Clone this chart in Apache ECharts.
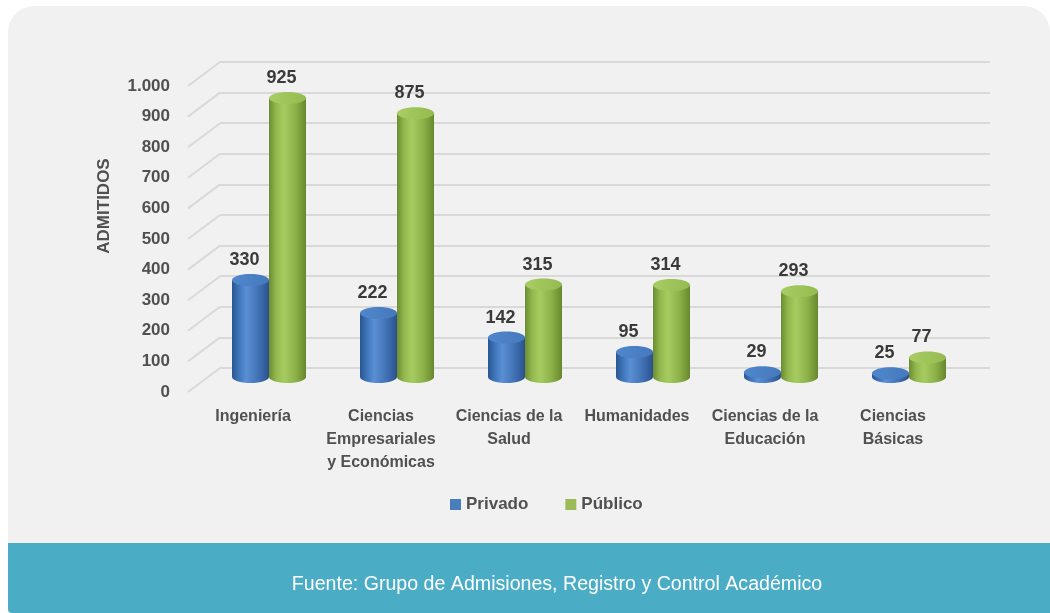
<!DOCTYPE html>
<html>
<head>
<meta charset="utf-8">
<script src="https://cdn.jsdelivr.net/npm/echarts@6/dist/echarts.min.js"></script>
<style>
html, body { margin: 0; padding: 0; background: #ffffff; }
#chart { width: 1050px; height: 613px; }
</style>
</head>
<body>
<div id="chart"></div>
<script>
// datos
var categorias = ['Ingeniería', 'Ciencias\nEmpresariales\ny Económicas', 'Ciencias de la\nSalud', 'Humanidades', 'Ciencias de la\nEducación', 'Ciencias\nBásicas'];
var privado = [330, 222, 142, 95, 29, 25];
var publico = [925, 875, 315, 314, 293, 77];
var yTicks = [0, 100, 200, 300, 400, 500, 600, 700, 800, 900, 1000];
var yMin = 0, yMax = 1000, yPaso = 100;

var fuente = "'Liberation Sans', Arial, sans-serif";
var chart = echarts.init(document.getElementById('chart'));

function grad(stops) {
    return new echarts.graphic.LinearGradient(0, 0, 1, 0, stops);
}

/**
 * cilindro 3D para cada barra
 */
function cilindro(lado, cuerpo, tapa) {
    return function (params, api) {
        var i = api.value(0);
        var v = api.value(1);
        var base = api.coord([i, 0]);
        var tope = api.coord([i, v]);
        var w = 37;
        var cx = base[0] + lado * w / 2;
        var yb = base[1] - 4;
        var yt = Math.min(tope[1], yb);
        var ry = 6;
        return {
            type: 'group',
            children: [
                { type: 'ellipse', shape: { cx: cx, cy: yb, rx: w / 2, ry: ry }, style: { fill: grad(cuerpo) } },
                { type: 'rect', shape: { x: cx - w / 2, y: yt, width: w, height: yb - yt }, style: { fill: grad(cuerpo) } },
                { type: 'ellipse', shape: { cx: cx, cy: yt, rx: w / 2, ry: ry }, style: { fill: grad(tapa) } },
                {
                    type: 'text',
                    style: {
                        text: String(v), x: cx - 6, y: yt - 20,
                        align: 'center', verticalAlign: 'middle',
                        font: 'bold 18px ' + fuente, fill: '#3a3a3a'
                    }
                }
            ]
        };
    };
}

var azulCuerpo = [
    { offset: 0, color: '#2b5590' }, { offset: 0.2, color: '#4077bd' },
    { offset: 0.38, color: '#5a8fd4' }, { offset: 0.7, color: '#4273b6' },
    { offset: 1, color: '#2a528b' }
];
var azulTapa = [{ offset: 0, color: '#5087cc' }, { offset: 1, color: '#4679bd' }];
var verdeCuerpo = [
    { offset: 0, color: '#6c8c31' }, { offset: 0.2, color: '#93ba4f' },
    { offset: 0.4, color: '#a6cb60' }, { offset: 0.72, color: '#8cb148' },
    { offset: 1, color: '#67872d' }
];
var verdeTapa = [{ offset: 0, color: '#a9cd64' }, { offset: 1, color: '#94ba50' }];

var option = {
    animation: false,
    graphic: [
        { type: 'rect', z: -10, shape: { x: 8, y: 6, width: 1042, height: 620, r: [26, 26, 0, 0] }, style: { fill: '#f1f1f1' } },
        { type: 'rect', z: -9, shape: { x: 8, y: 543, width: 1042, height: 70, r: [0, 0, 0, 4] }, style: { fill: '#4bacc6' } },
        {
            type: 'text', z: 100, x: 557, y: 585,
            style: { text: 'Fuente: Grupo de Admisiones, Registro y Control Académico', align: 'center', verticalAlign: 'middle', font: '19.6px ' + fuente, fill: '#ffffff' }
        },
        {
            type: 'text', z: 100, x: 104, y: 206, rotation: Math.PI / 2,
            style: { text: 'ADMITIDOS', align: 'center', verticalAlign: 'middle', font: 'bold 17px ' + fuente, fill: '#505050' }
        }
    ],
    legend: {
        data: ['Privado', 'Público'],
        left: 450, top: 496, padding: 0,
        icon: 'rect', itemWidth: 11, itemHeight: 11, itemGap: 37,
        textStyle: { fontFamily: fuente, fontWeight: 'bold', fontSize: 17, color: '#505050', padding: [0, 0, 0, 0] }
    },
    grid: [
        { left: 189, width: 768, top: 86, height: 306 },
        { left: 220, right: 60, top: 62, height: 306 },
        { left: 205, width: 768, top: 75, height: 306 }
    ],
    xAxis: [
        {
            gridIndex: 0, type: 'category', data: categorias,
            axisLine: { show: false }, axisTick: { show: false },
            axisLabel: { margin: 13, lineHeight: 23, fontFamily: fuente, fontWeight: 'bold', fontSize: 16, color: '#505050', interval: 0 }
        },
        { gridIndex: 1, type: 'value', min: 0, max: 1, show: false },
        { gridIndex: 2, type: 'category', data: categorias, show: false }
    ],
    yAxis: [
        {
            gridIndex: 0, type: 'value', min: yMin, max: yMax, interval: yPaso,
            axisLine: { show: false }, axisTick: { show: false }, splitLine: { show: false },
            axisLabel: {
                margin: 19, fontFamily: fuente, fontWeight: 'bold', fontSize: 17, color: '#505050',
                formatter: function (v) { return String(v).replace(/\B(?=(\d{3})+(?!\d))/g, '.'); }
            }
        },
        {
            gridIndex: 1, type: 'value', min: yMin, max: yMax, interval: yPaso,
            axisLine: { show: false }, axisTick: { show: false }, axisLabel: { show: false },
            splitLine: { lineStyle: { color: '#d9d9d9', width: 2 } }
        },
        { gridIndex: 2, type: 'value', min: yMin, max: yMax, show: false }
    ],
    series: [
        {
            name: 'diagonales', type: 'custom', xAxisIndex: 1, yAxisIndex: 1,
            data: yTicks.map(function (t) { return [0, t]; }),
            renderItem: function (params, api) {
                var p = api.coord([0, api.value(1)]);
                return {
                    type: 'line',
                    shape: { x1: p[0] - 32, y1: p[1] + 24, x2: p[0], y2: p[1] },
                    style: { stroke: '#d9d9d9', lineWidth: 2 }
                };
            }
        },
        {
            name: 'Privado', type: 'custom', xAxisIndex: 2, yAxisIndex: 2,
            itemStyle: { color: '#4a7ebb' },
            data: privado.map(function (v, i) { return [i, v]; }),
            renderItem: cilindro(-1, azulCuerpo, azulTapa)
        },
        {
            name: 'Público', type: 'custom', xAxisIndex: 2, yAxisIndex: 2,
            itemStyle: { color: '#9bbb59' },
            data: publico.map(function (v, i) { return [i, v]; }),
            renderItem: cilindro(1, verdeCuerpo, verdeTapa)
        }
    ]
};
option && chart.setOption(option);
</script>
</body>
</html>
